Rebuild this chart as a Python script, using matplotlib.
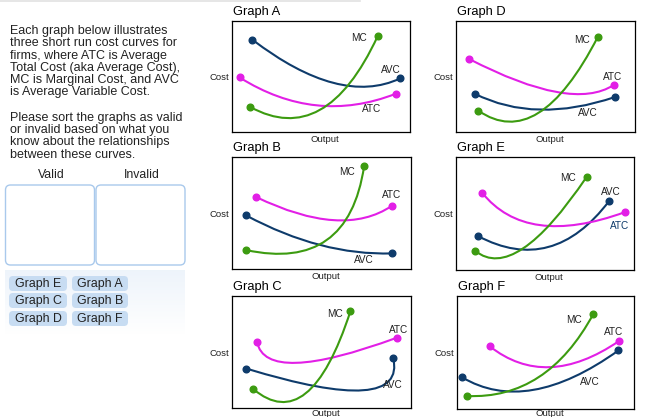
import numpy as np
import matplotlib.pyplot as plt
from matplotlib.path import Path
from matplotlib.patches import PathPatch, FancyBboxPatch

plt.rcParams['font.family'] = ['Liberation Sans', 'DejaVu Sans']

W, H = 650, 417
NAVY = '#0e3b6b'
MAGENTA = '#e21fe6'
GREEN = '#3c9b10'
INK = '#222222'

# each curve: start point, middle point (t=0.5 on the curve), end point,
# in percent of the plot box (x right, y up)
avc_pts = {
    'A': [(11.4, 83.2), (56.8, 44.3), (94.4, 48.2)],
    'B': [(7.9, 47.8), (49.2, 21.4), (89.3, 13.9)],
    'C': [(8.0, 35.2), (73.3, 15.8), (90.1, 44.8)],
    'D': [(10.4, 34.5), (46.9, 20.1), (88.8, 31.5)],
    'E': [(12.4, 30.0), (51.8, 20.3), (86.1, 61.2)],
    'F': [(2.8, 28.1), (43.2, 16.9), (91.2, 51.8)],
}
atc_pts = {
    'A': [(4.3, 49.1), (47.5, 24.0), (91.9, 34.4)],
    'B': [(13.3, 64.4), (56.6, 43.6), (89.3, 56.4)],
    'C': [(14.0, 58.8), (36.0, 40.3), (92.0, 62.7)],
    'D': [(7.3, 65.8), (56.2, 36.0), (88.1, 42.3)],
    'E': [(14.6, 68.5), (47.1, 39.7), (94.9, 51.2)],
    'F': [(18.4, 55.6), (52.6, 37.0), (91.5, 60.1)],
}
mc_pts = {
    'A': [(10.3, 22.5), (49.3, 19.8), (81.8, 86.2)],
    'B': [(7.9, 16.9), (52.9, 25.8), (73.8, 91.7)],
    'C': [(11.8, 17.0), (41.2, 13.1), (66.2, 86.6)],
    'D': [(12.5, 19.2), (46.0, 17.1), (79.3, 85.9)],
    'E': [(10.9, 16.8), (37.7, 19.1), (73.4, 82.4)],
    'F': [(5.6, 11.5), (46.1, 28.1), (77.1, 84.3)],
}

# curve label positions
mc_label = {'A': (71.5, 85.0), 'B': (64.1, 86.6), 'C': (57.5, 83.6),
            'D': (70.2, 82.9), 'E': (63.0, 81.8), 'F': (66.2, 78.4)}
atc_label = {'A': (78.4, 20.4), 'B': (89.0, 65.9), 'C': (92.9, 69.3),
             'D': (87.5, 49.2), 'E': (92.1, 39.1), 'F': (88.3, 68.3)}
avc_label = {'A': (89.3, 56.3), 'B': (73.5, 8.0), 'C': (90.1, 20.9),
             'D': (73.9, 17.1), 'E': (87.1, 69.1), 'F': (75.2, 23.7)}

para1 = ["Each graph below illustrates", "three short run cost curves for",
         "firms, where ATC is Average", "Total Cost (aka Average Cost),",
         "MC is Marginal Cost, and AVC", "is Average Variable Cost."]
para2 = ["Please sort the graphs as valid", "or invalid based on what you",
         "know about the relationships", "between these curves."]
chips = [["Graph E", "Graph A"], ["Graph C", "Graph B"], ["Graph D", "Graph F"]]

# plot boxes in pixels: left, top, right, bottom
boxes = {'A': (232, 21, 410, 132), 'D': (456, 21, 635, 132),
         'B': (232, 157, 411, 269), 'E': (456, 157, 634, 270),
         'C': (232, 296, 411, 408), 'F': (457, 296, 634, 409)}

fig = plt.figure(figsize=(6.5, 4.17), dpi=100)
bg = fig.add_axes([0, 0, 1, 1])
bg.set_xlim(0, W)
bg.set_ylim(H, 0)
bg.axis('off')

# faint rule at the top
bg.plot([0, 360], [1, 1], color='#e2e2e2', lw=1.2)

for i, line in enumerate(para1):
    bg.text(10.5, 34.3 + i * 12.15, line, fontsize=9, color=INK, va='baseline')
for i, line in enumerate(para2):
    bg.text(10.5, 120.7 + i * 12.33, line, fontsize=9, color=INK, va='baseline')

bg.text(51, 178.3, "Valid", fontsize=8.8, color=INK, ha='center', va='baseline')
bg.text(142, 178.3, "Invalid", fontsize=8.8, color=INK, ha='center', va='baseline')

for x0 in (5.5, 96):
    bg.add_patch(FancyBboxPatch((x0, 185), 89, 80, boxstyle='round,pad=0,rounding_size=5',
                                fc='white', ec='#a9c9ec', lw=1))

# chip tray with fading background
grad = np.linspace(0, 1, 50)[:, None, None]
top_c = np.array([0.933, 0.957, 0.984])
tray = top_c * (1 - grad) + np.array([1, 1, 1]) * grad
tray = np.repeat(tray, 2, axis=1)
bg.imshow(tray, extent=(5, 185, 335, 270), aspect='auto', zorder=0)
bg.set_xlim(0, W)
bg.set_ylim(H, 0)

chip_x = [(9, 67), (72, 128)]
chip_y = [(276, 291), (293, 308), (311, 326)]
for r, row in enumerate(chips):
    for c, name in enumerate(row):
        xa, xb = chip_x[c]
        ya, yb = chip_y[r]
        bg.add_patch(FancyBboxPatch((xa, ya), xb - xa, yb - ya,
                                    boxstyle='round,pad=0,rounding_size=4',
                                    fc='#c7dcf2', ec='none', zorder=2))
        bg.text((xa + xb) / 2, (ya + yb) / 2 + 0.5, name, fontsize=8.9, color=INK,
                ha='center', va='center', zorder=3)


def curve(ax, pts, color):
    p0, pm, p2 = (np.array(p, dtype=float) for p in pts)
    ctrl = 2 * pm - (p0 + p2) / 2
    path = Path([p0, ctrl, p2], [Path.MOVETO, Path.CURVE3, Path.CURVE3])
    ax.add_patch(PathPatch(path, fill=False, ec=color, lw=1.5, capstyle='round'))
    ax.plot([p0[0], p2[0]], [p0[1], p2[1]], 'o', color=color, ms=4.8, clip_on=False)


for g, (l, t, r, b) in boxes.items():
    ax = fig.add_axes([l / W, 1 - b / H, (r - l) / W, (b - t) / H])
    ax.set_xlim(0, 100)
    ax.set_ylim(0, 100)
    ax.set_xticks([])
    ax.set_yticks([])
    for s in ax.spines.values():
        s.set_linewidth(0.9)
        s.set_color('black')

    curve(ax, avc_pts[g], NAVY)
    curve(ax, atc_pts[g], MAGENTA)
    curve(ax, mc_pts[g], GREEN)

    ax.text(*mc_label[g], "MC", fontsize=7.2, color=INK, ha='center', va='center')
    ax.text(*atc_label[g], "ATC", fontsize=7.2, ha='center', va='center',
            color=NAVY if g == 'E' else INK)
    ax.text(*avc_label[g], "AVC", fontsize=7.2, color=INK, ha='center', va='center')

    bg.text(l + 1, t - 6, "Graph " + g, fontsize=9.3, color='black', va='baseline')
    bg.text(l - 3, (t + b) / 2 + 1, "Cost", fontsize=6.8, color=INK, ha='right', va='center')
    bg.text((l + r) / 2 + 4, min(b + 10, 415.5), "Output", fontsize=6.8, color=INK,
            ha='center', va='baseline')

fig.savefig('out.png', dpi=100)
